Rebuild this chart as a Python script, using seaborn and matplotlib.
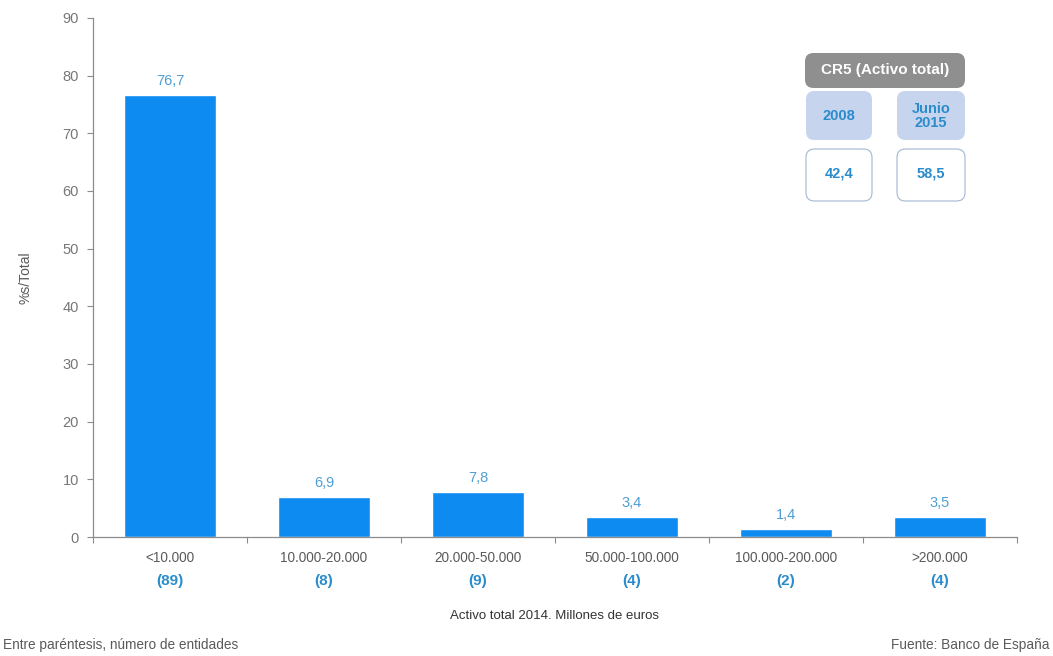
import numpy as np
import pandas as pd
import matplotlib
matplotlib.use('Agg')
import matplotlib.pyplot as plt
import matplotlib.transforms as mtransforms
from matplotlib.patches import FancyBboxPatch
import seaborn as sns

# data
categories = ['<10.000', '10.000-20.000', '20.000-50.000', '50.000-100.000',
              '100.000-200.000', '>200.000']
shares = [76.7, 6.9, 7.8, 3.4, 1.4, 3.5]
n_entities = [89, 8, 9, 4, 2, 4]
cr5_years = ['2008', 'Junio\n2015']
cr5_values = [42.4, 58.5]

bar_color = '#0D8BF0'
label_color = '#4E9FD6'
count_color = '#2A8CCB'
gray_text = '#5A5A5A'
axis_gray = '#8C8C8C'

sns.set_theme(style='white')
plt.rcParams['font.family'] = ['Liberation Sans', 'DejaVu Sans']

df = pd.DataFrame({'cat': categories, 'share': shares})

fig = plt.figure(figsize=(10.53, 6.56), dpi=100)
ax = fig.add_axes([0.0883, 0.1814, 0.8775, 0.7912])

sns.barplot(data=df, x='cat', y='share', color=bar_color, width=0.6,
            saturation=1, ax=ax)

ax.set_ylim(0, 90)
ax.set_xlim(-0.5, 5.5)
ax.set_yticks(range(0, 91, 10))
ax.tick_params(axis='y', labelsize=10.5, colors=axis_gray, labelcolor='#777777',
               length=4, width=0.8, direction='out', left=True, pad=6)

# category labels without tick marks, small ticks at the boundaries
ax.set_xticks(range(len(categories)))
ax.set_xticklabels(categories)
ax.set_xticks(np.arange(-0.5, len(categories), 1), minor=True)
ax.tick_params(axis='x', which='major', length=0, labelsize=9.8,
               labelcolor=gray_text, pad=10)
ax.tick_params(axis='x', which='minor', length=4, width=0.8, colors=axis_gray,
               direction='out', bottom=True)

for s in ['top', 'right']:
    ax.spines[s].set_visible(False)
for s in ['left', 'bottom']:
    ax.spines[s].set_color(axis_gray)
    ax.spines[s].set_linewidth(0.9)

ax.set_xlabel('')
ax.set_ylabel('%s/Total', fontsize=10, color=gray_text, labelpad=22)

# value labels above bars
for i, v in enumerate(shares):
    ax.text(i, v + 1.2, f'{v:.1f}'.replace('.', ','), ha='center', va='bottom',
            fontsize=10.5, color=label_color)

# number of entities below the category labels
trans = mtransforms.blended_transform_factory(ax.transData, ax.transAxes)
for i, n in enumerate(n_entities):
    ax.text(i, -0.084, f'({n})', transform=trans, ha='center', va='center',
            fontsize=11, fontweight='bold', color=count_color)

fig.text(0.527, 0.061, 'Activo total 2014. Millones de euros', ha='center',
         va='center', fontsize=9.5, color='#333333')
fig.text(0.003, 0.017, 'Entre paréntesis, número de entidades', ha='left',
         va='center', fontsize=9.8, color=gray_text)
fig.text(0.997, 0.017, 'Fuente: Banco de España', ha='right',
         va='center', fontsize=9.8, color=gray_text)

# CR5 inset boxes (figure pixel coords -> fraction)
W, H = 1053.0, 656.0


def box(x0, y0, x1, y1, face, edge, lw=0.0):
    p = FancyBboxPatch((x0 / W, 1 - y1 / H), (x1 - x0) / W, (y1 - y0) / H,
                       boxstyle='round,pad=0,rounding_size=0.008',
                       transform=fig.transFigure, facecolor=face,
                       edgecolor=edge, linewidth=lw, mutation_aspect=W / H)
    fig.add_artist(p)


box(805, 53, 965, 88, '#8F8F8F', '#8F8F8F')
fig.text(885 / W, 1 - 70 / H, 'CR5 (Activo total)', ha='center', va='center',
         fontsize=11, fontweight='bold', color='white')

xs = [(806, 872), (897, 965)]
for (x0, x1), yr, val in zip(xs, cr5_years, cr5_values):
    box(x0, 91, x1, 140, '#C6D4EE', '#C6D4EE')
    fig.text((x0 + x1) / 2 / W, 1 - 116 / H, yr, ha='center', va='center',
             fontsize=10.5, fontweight='bold', color=count_color, linespacing=1.05)
    box(x0, 149, x1, 201, 'white', '#A3B7D2', lw=0.8)
    fig.text((x0 + x1) / 2 / W, 1 - 173 / H, f'{val:.1f}'.replace('.', ','),
             ha='center', va='center', fontsize=10.5, fontweight='bold',
             color=count_color)

fig.savefig('out.png', dpi=100)
